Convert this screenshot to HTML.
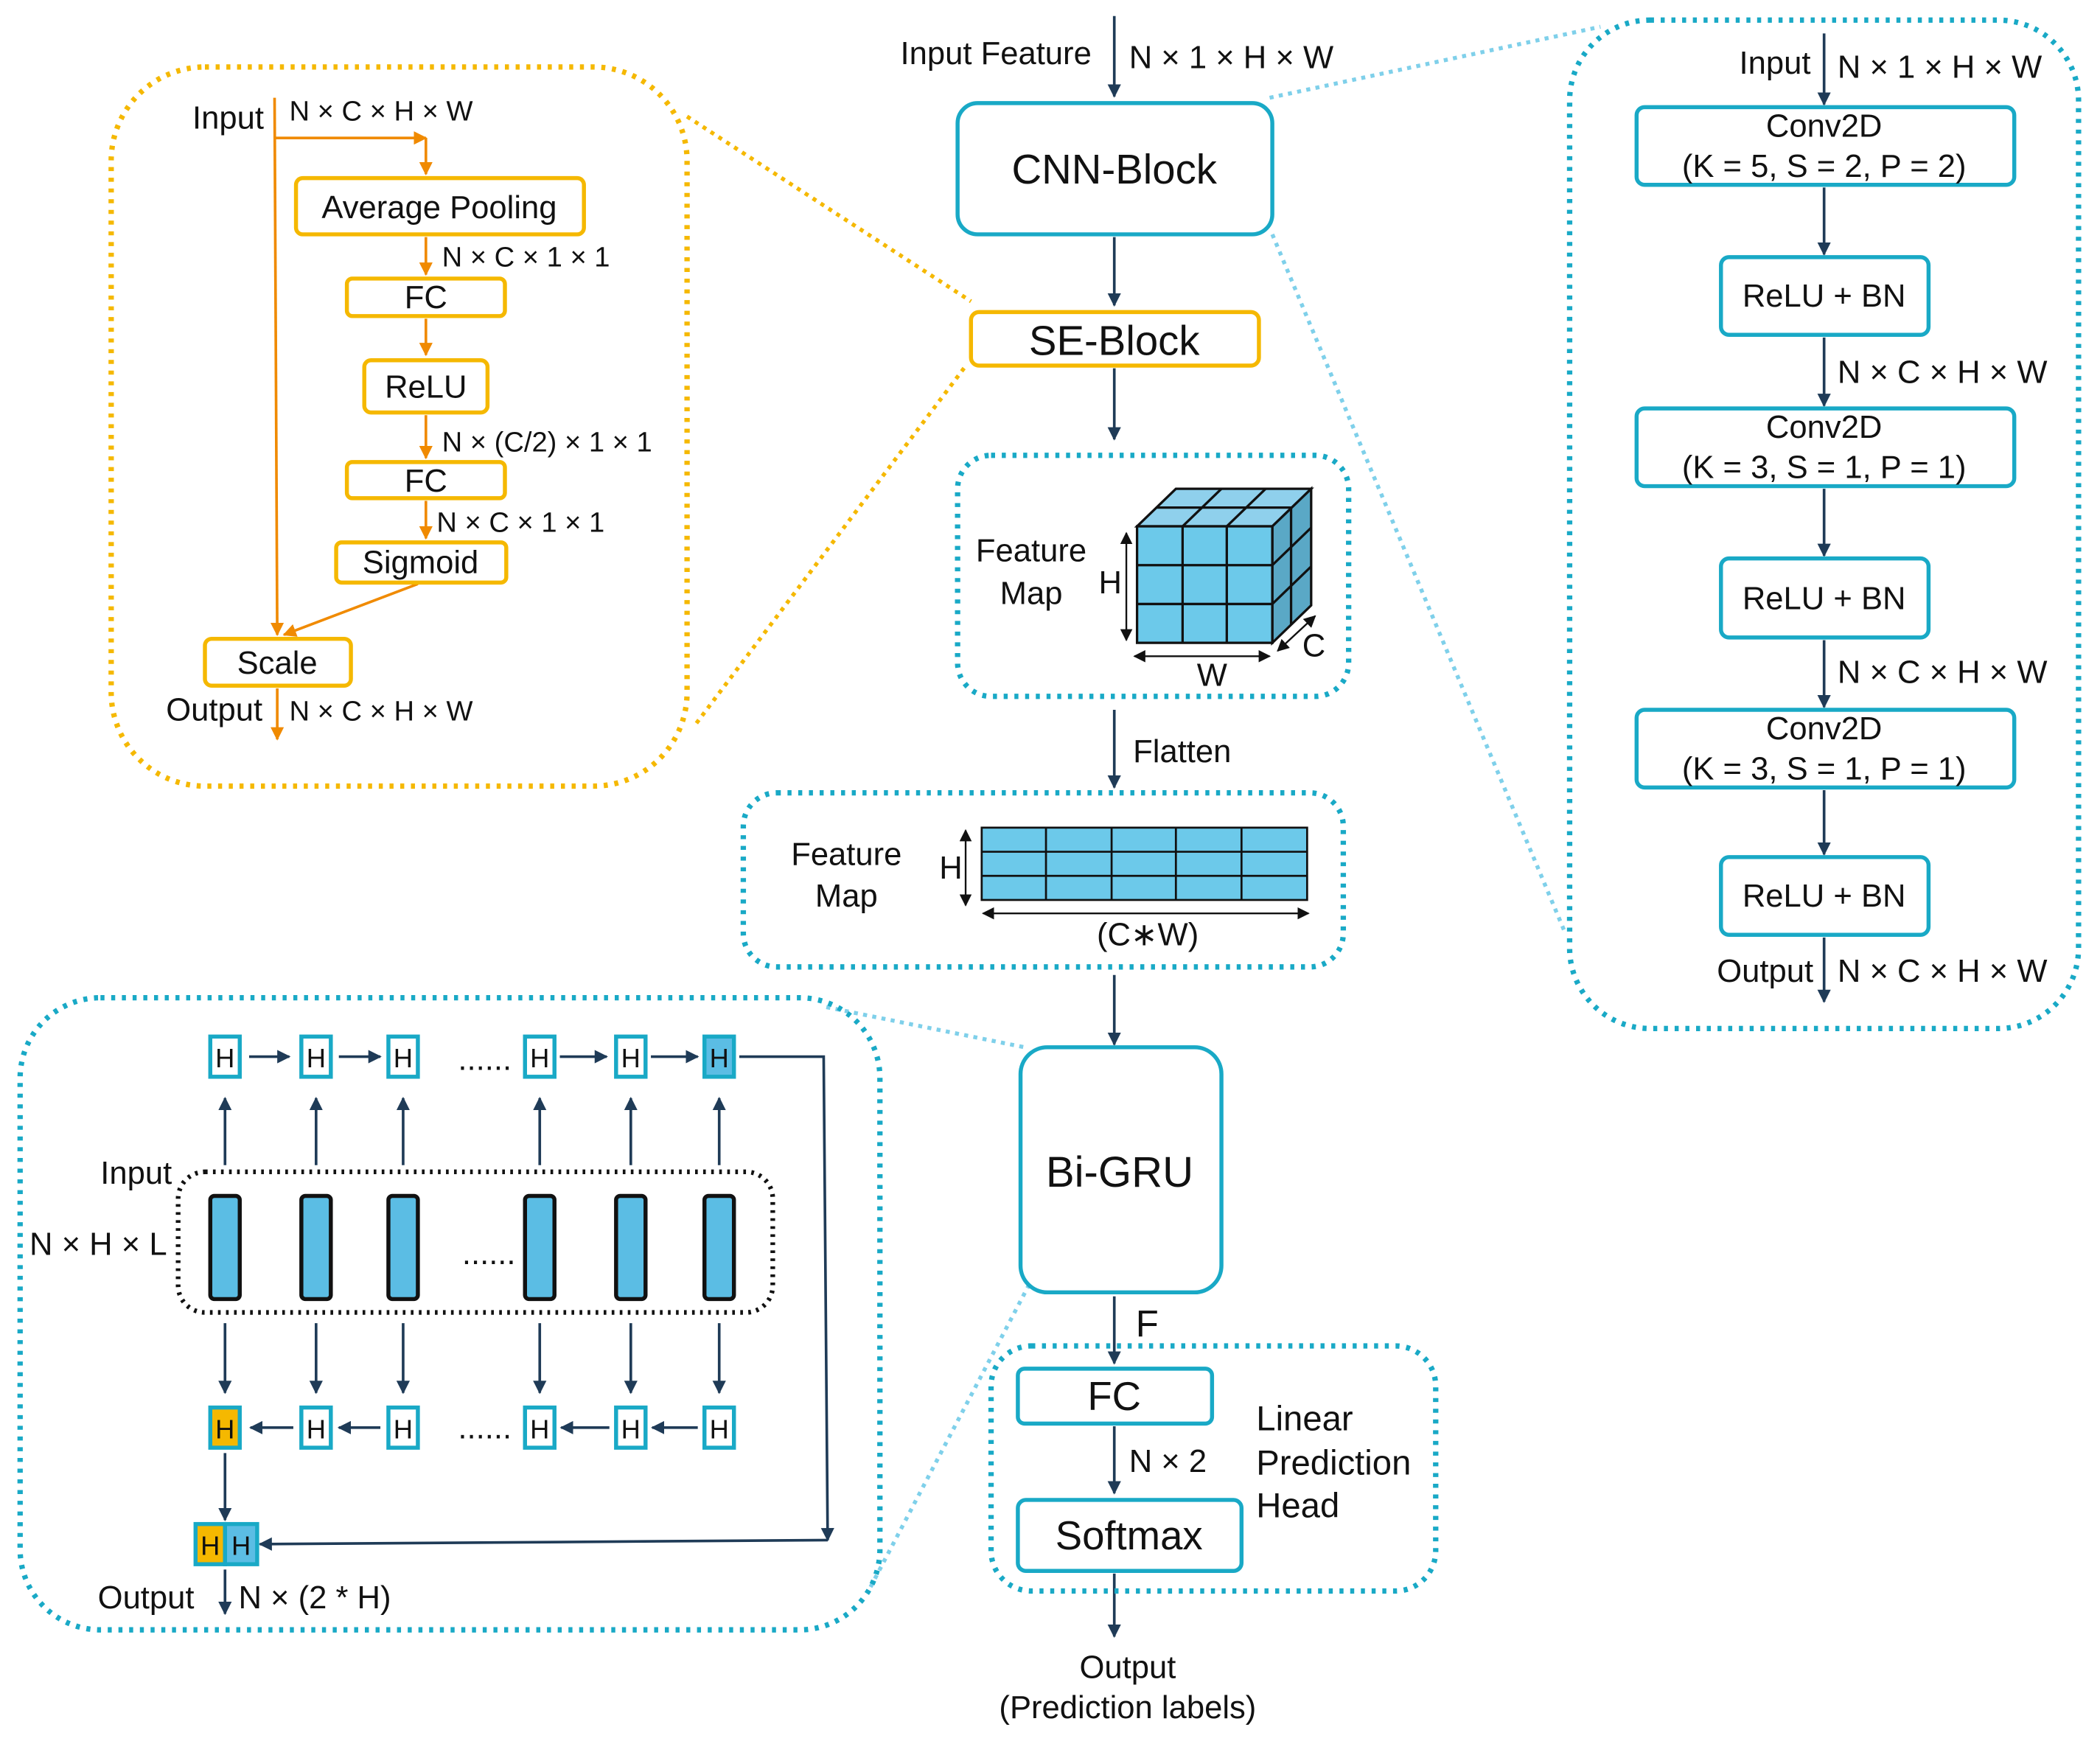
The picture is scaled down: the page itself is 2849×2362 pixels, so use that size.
<!DOCTYPE html>
<html><head><meta charset="utf-8"><style>
html,body{margin:0;padding:0;background:#fff;}
svg{display:block;}
text{font-family:"Liberation Sans",Arial,sans-serif;fill:#111;}
</style></head><body>
<svg width="2849" height="2362" viewBox="0 0 1568 1300" xmlns="http://www.w3.org/2000/svg">
<defs>
<marker id="ad" viewBox="0 0 10 10" refX="9" refY="5" markerWidth="5" markerHeight="5" orient="auto"><path d="M0,0L10,5L0,10z" fill="#1f3b57"/></marker>
<marker id="ao" viewBox="0 0 10 10" refX="9" refY="5" markerWidth="5" markerHeight="5" orient="auto"><path d="M0,0L10,5L0,10z" fill="#f08a00"/></marker>
<marker id="ak" viewBox="0 0 10 10" refX="9" refY="5" markerWidth="7" markerHeight="7" orient="auto-start-reverse"><path d="M0,0L10,5L0,10z" fill="#111"/></marker>
</defs>
<g font-size="24">
<g stroke-dasharray="3,4" stroke-width="3" fill="none">
<line x1="513" y1="87" x2="725" y2="225" stroke="#f5b800"/>
<line x1="520" y1="540" x2="722" y2="272" stroke="#f5b800"/>
<line x1="948" y1="73" x2="1195" y2="20" stroke="#7fd0ea"/>
<line x1="950" y1="175" x2="1168" y2="695" stroke="#7fd0ea"/>
<line x1="617" y1="752" x2="765" y2="782" stroke="#7fd0ea"/>
<line x1="650" y1="1185" x2="768" y2="960" stroke="#7fd0ea"/>
</g>

<g stroke="#1f3b57" stroke-width="2" marker-end="url(#ad)">
<line x1="832" y1="12" x2="832" y2="72"/>
<line x1="832" y1="177" x2="832" y2="228"/>
<line x1="832" y1="275" x2="832" y2="328"/>
<line x1="832" y1="530" x2="832" y2="588"/>
<line x1="832" y1="728" x2="832" y2="780"/>
<line x1="832" y1="968" x2="832" y2="1018"/>
<line x1="832" y1="1065" x2="832" y2="1115"/>
<line x1="832" y1="1175" x2="832" y2="1222"/>
</g>
<text x="815" y="48" text-anchor="end">Input Feature</text>
<text x="843" y="51">N × 1 × H × W</text>
<rect x="715" y="77" width="235" height="98" rx="15" fill="none" stroke="#19a9c6" stroke-width="3"/>
<text x="832" y="137" font-size="31" text-anchor="middle">CNN-Block</text>
<rect x="725" y="233" width="215" height="40" rx="6" fill="none" stroke="#f5b800" stroke-width="3"/>
<text x="832" y="265" font-size="31" text-anchor="middle">SE-Block</text>
<rect x="715" y="340" width="292" height="180" rx="25" fill="none" stroke="#19a9c6" stroke-width="4" stroke-dasharray="3,5"/>
<text x="770" y="419" text-anchor="middle">Feature</text>
<text x="770" y="451" text-anchor="middle">Map</text>
<text x="829" y="443" text-anchor="middle">H</text>
<g stroke="#111" stroke-width="1.8">
<polygon points="849,393 878,365 979,365 950,393" fill="#8fd0ec"/>
<polygon points="950,393 979,365 979,452 950,480" fill="#5aa8c6"/>
<rect x="849" y="393" width="101" height="87" fill="#6cc9ea"/>
<line x1="883" y1="393" x2="883" y2="480"/><line x1="916" y1="393" x2="916" y2="480"/>
<line x1="849" y1="422" x2="950" y2="422"/><line x1="849" y1="451" x2="950" y2="451"/>
<line x1="883" y1="393" x2="912" y2="365"/><line x1="916" y1="393" x2="945" y2="365"/>
<line x1="863" y1="379" x2="964" y2="379"/>
<line x1="964" y1="379" x2="964" y2="466"/>
<line x1="950" y1="422" x2="979" y2="394"/><line x1="950" y1="451" x2="979" y2="423"/>
</g>
<g stroke="#111" stroke-width="1.3" marker-end="url(#ak)" marker-start="url(#ak)">
<line x1="841" y1="398" x2="841" y2="478"/>
<line x1="847" y1="490" x2="948" y2="490"/>
<line x1="954" y1="486" x2="982" y2="460"/>
</g>
<text x="905" y="512" text-anchor="middle">W</text>
<text x="981" y="490" text-anchor="middle">C</text>
<text x="846" y="569">Flatten</text>
<rect x="555" y="592" width="448" height="130" rx="25" fill="none" stroke="#19a9c6" stroke-width="4" stroke-dasharray="3,5"/>
<text x="632" y="646" text-anchor="middle">Feature</text>
<text x="632" y="677" text-anchor="middle">Map</text>
<g stroke="#111" stroke-width="1.5">
<rect x="733" y="618" width="243" height="54" fill="#6cc9ea"/>
<line x1="781" y1="618" x2="781" y2="672"/><line x1="830" y1="618" x2="830" y2="672"/><line x1="878" y1="618" x2="878" y2="672"/><line x1="927" y1="618" x2="927" y2="672"/>
<line x1="733" y1="636" x2="976" y2="636"/><line x1="733" y1="654" x2="976" y2="654"/>
</g>
<g stroke="#111" stroke-width="1.3" marker-end="url(#ak)" marker-start="url(#ak)">
<line x1="721" y1="620" x2="721" y2="676"/>
<line x1="734" y1="682" x2="977" y2="682"/>
</g>
<text x="710" y="656" text-anchor="middle">H</text>
<text x="857" y="706" text-anchor="middle">(C∗W)</text>
<rect x="762" y="782" width="150" height="183" rx="20" fill="none" stroke="#19a9c6" stroke-width="3"/>
<text x="836" y="886" font-size="32" text-anchor="middle">Bi-GRU</text>
<text x="848" y="998" font-size="28">F</text>
<rect x="740" y="1005" width="332" height="183" rx="30" fill="none" stroke="#19a9c6" stroke-width="4" stroke-dasharray="3,5"/>
<rect x="760" y="1022" width="145" height="41" rx="5" fill="#fff" stroke="#19a9c6" stroke-width="3"/>
<text x="832" y="1053" font-size="30" text-anchor="middle">FC</text>
<text x="843" y="1099">N × 2</text>
<rect x="760" y="1120" width="167" height="53" rx="6" fill="#fff" stroke="#19a9c6" stroke-width="3"/>
<text x="843" y="1157" font-size="30" text-anchor="middle">Softmax</text>
<text x="938" y="1068" font-size="26">Linear</text>
<text x="938" y="1101" font-size="26">Prediction</text>
<text x="938" y="1133" font-size="26">Head</text>
<text x="842" y="1253" text-anchor="middle">Output</text>
<text x="842" y="1283" text-anchor="middle">(Prediction labels)</text>

<rect x="83" y="50" width="430" height="537" rx="70" fill="none" stroke="#f5b800" stroke-width="4" stroke-dasharray="3,5"/>
<g stroke="#f08a00" stroke-width="2" fill="none" marker-end="url(#ao)">
<line x1="205" y1="73" x2="207" y2="474"/>
<polyline points="205,103 318,103" />
<line x1="318" y1="103" x2="318" y2="130"/>
<line x1="318" y1="177" x2="318" y2="205"/>
<line x1="318" y1="238" x2="318" y2="265"/>
<line x1="318" y1="310" x2="318" y2="342"/>
<line x1="318" y1="374" x2="318" y2="402"/>
<line x1="312" y1="436" x2="212" y2="474"/>
<line x1="207" y1="514" x2="207" y2="552"/>
</g>
<g fill="none" stroke="#f5b800" stroke-width="3">
<rect x="221" y="133" width="215" height="42" rx="5"/>
<rect x="259" y="208" width="118" height="28" rx="4"/>
<rect x="272" y="269" width="92" height="39" rx="5"/>
<rect x="259" y="345" width="118" height="27" rx="4"/>
<rect x="251" y="405" width="127" height="30" rx="4"/>
<rect x="153" y="477" width="109" height="35" rx="5"/>
</g>
<text x="197" y="96" text-anchor="end">Input</text>
<text x="216" y="90" font-size="21">N × C × H × W</text>
<text x="328" y="163" text-anchor="middle">Average Pooling</text>
<text x="330" y="199" font-size="21">N × C × 1 × 1</text>
<text x="318" y="230" text-anchor="middle">FC</text>
<text x="318" y="297" text-anchor="middle">ReLU</text>
<text x="330" y="337" font-size="21">N × (C/2) × 1 × 1</text>
<text x="318" y="367" text-anchor="middle">FC</text>
<text x="326" y="397" font-size="21">N × C × 1 × 1</text>
<text x="314" y="428" text-anchor="middle">Sigmoid</text>
<text x="207" y="503" text-anchor="middle">Scale</text>
<text x="196" y="538" text-anchor="end">Output</text>
<text x="216" y="538" font-size="21">N × C × H × W</text>

<rect x="1172" y="15" width="380" height="753" rx="60" fill="none" stroke="#19a9c6" stroke-width="4" stroke-dasharray="3,5"/>
<g stroke="#1f3b57" stroke-width="2" marker-end="url(#ad)">
<line x1="1362" y1="25" x2="1362" y2="78"/>
<line x1="1362" y1="140" x2="1362" y2="190"/>
<line x1="1362" y1="252" x2="1362" y2="303"/>
<line x1="1362" y1="365" x2="1362" y2="415"/>
<line x1="1362" y1="478" x2="1362" y2="528"/>
<line x1="1362" y1="590" x2="1362" y2="638"/>
<line x1="1362" y1="700" x2="1362" y2="748"/>
</g>
<g fill="none" stroke="#19a9c6" stroke-width="3">
<rect x="1222" y="80" width="282" height="58" rx="6"/>
<rect x="1285" y="192" width="155" height="58" rx="6"/>
<rect x="1222" y="305" width="282" height="58" rx="6"/>
<rect x="1285" y="417" width="155" height="59" rx="6"/>
<rect x="1222" y="530" width="282" height="58" rx="6"/>
<rect x="1285" y="640" width="155" height="58" rx="6"/>
</g>
<text x="1352" y="55" text-anchor="end">Input</text>
<text x="1372" y="58">N × 1 × H × W</text>
<text x="1362" y="102" text-anchor="middle">Conv2D</text>
<text x="1362" y="132" text-anchor="middle">(K = 5, S = 2, P = 2)</text>
<text x="1362" y="229" text-anchor="middle">ReLU + BN</text>
<text x="1372" y="286">N × C × H × W</text>
<text x="1362" y="327" text-anchor="middle">Conv2D</text>
<text x="1362" y="357" text-anchor="middle">(K = 3, S = 1, P = 1)</text>
<text x="1362" y="455" text-anchor="middle">ReLU + BN</text>
<text x="1372" y="510">N × C × H × W</text>
<text x="1362" y="552" text-anchor="middle">Conv2D</text>
<text x="1362" y="582" text-anchor="middle">(K = 3, S = 1, P = 1)</text>
<text x="1362" y="677" text-anchor="middle">ReLU + BN</text>
<text x="1354" y="733" text-anchor="end">Output</text>
<text x="1372" y="733">N × C × H × W</text>

<rect x="15" y="745" width="642" height="472" rx="60" fill="none" stroke="#19a9c6" stroke-width="4" stroke-dasharray="3,5"/>
<g stroke="#1f3b57" stroke-width="2" fill="none" marker-end="url(#ad)">
<line x1="186" y1="789" x2="216" y2="789"/><line x1="253" y1="789" x2="284" y2="789"/>
<line x1="418" y1="789" x2="453" y2="789"/><line x1="486" y1="789" x2="521" y2="789"/>
<polyline points="552,789 615,789 618,1150"/>
<line x1="618" y1="1150" x2="194" y2="1153"/>
<line x1="219" y1="1066" x2="187" y2="1066"/><line x1="284" y1="1066" x2="253" y2="1066"/>
<line x1="455" y1="1066" x2="419" y2="1066"/><line x1="521" y1="1066" x2="487" y2="1066"/>
<line x1="168" y1="1085" x2="168" y2="1135"/>
<line x1="168" y1="1172" x2="168" y2="1205"/>
<line x1="168" y1="870" x2="168" y2="820"/><line x1="236" y1="870" x2="236" y2="820"/><line x1="301" y1="870" x2="301" y2="820"/>
<line x1="403" y1="870" x2="403" y2="820"/><line x1="471" y1="870" x2="471" y2="820"/><line x1="537" y1="870" x2="537" y2="820"/>
<line x1="168" y1="988" x2="168" y2="1040"/><line x1="236" y1="988" x2="236" y2="1040"/><line x1="301" y1="988" x2="301" y2="1040"/>
<line x1="403" y1="988" x2="403" y2="1040"/><line x1="471" y1="988" x2="471" y2="1040"/><line x1="537" y1="988" x2="537" y2="1040"/>
</g>
<g stroke="#19a9c6" stroke-width="3" fill="#fff">
<rect x="157" y="774" width="22" height="30"/><rect x="225" y="774" width="22" height="30"/><rect x="290" y="774" width="22" height="30"/>
<rect x="392" y="774" width="22" height="30"/><rect x="460" y="774" width="22" height="30"/><rect x="526" y="774" width="22" height="30" fill="#5bbde4"/>
<rect x="157" y="1051" width="22" height="30" fill="#f5b800"/><rect x="225" y="1051" width="22" height="30"/><rect x="290" y="1051" width="22" height="30"/>
<rect x="392" y="1051" width="22" height="30"/><rect x="460" y="1051" width="22" height="30"/><rect x="526" y="1051" width="22" height="30"/>
<rect x="146" y="1138" width="22" height="30" fill="#f5b800"/><rect x="168" y="1138" width="24" height="30" fill="#5bbde4"/>
</g>
<g font-size="20" text-anchor="middle">
<text x="168" y="797">H</text><text x="236" y="797">H</text><text x="301" y="797">H</text><text x="403" y="797">H</text><text x="471" y="797">H</text><text x="537" y="797">H</text>
<text x="168" y="1074">H</text><text x="236" y="1074">H</text><text x="301" y="1074">H</text><text x="403" y="1074">H</text><text x="471" y="1074">H</text><text x="537" y="1074">H</text>
<text x="157" y="1161">H</text><text x="180" y="1161">H</text>
</g>
<text x="362" y="799" text-anchor="middle">......</text>
<text x="365" y="944" text-anchor="middle">......</text>
<text x="362" y="1074" text-anchor="middle">......</text>
<rect x="133" y="875" width="444" height="105" rx="20" fill="none" stroke="#111" stroke-width="3.5" stroke-dasharray="2,4"/>
<g fill="#5bbde4" stroke="#111" stroke-width="3">
<rect x="157" y="893" width="22" height="77" rx="3"/><rect x="225" y="893" width="22" height="77" rx="3"/><rect x="290" y="893" width="22" height="77" rx="3"/>
<rect x="392" y="893" width="22" height="77" rx="3"/><rect x="460" y="893" width="22" height="77" rx="3"/><rect x="526" y="893" width="22" height="77" rx="3"/>
</g>
<text x="75" y="884">Input</text>
<text x="22" y="937">N × H × L</text>
<text x="73" y="1201">Output</text>
<text x="178" y="1201">N × (2 * H)</text>
</g>
</svg>
</body></html>
